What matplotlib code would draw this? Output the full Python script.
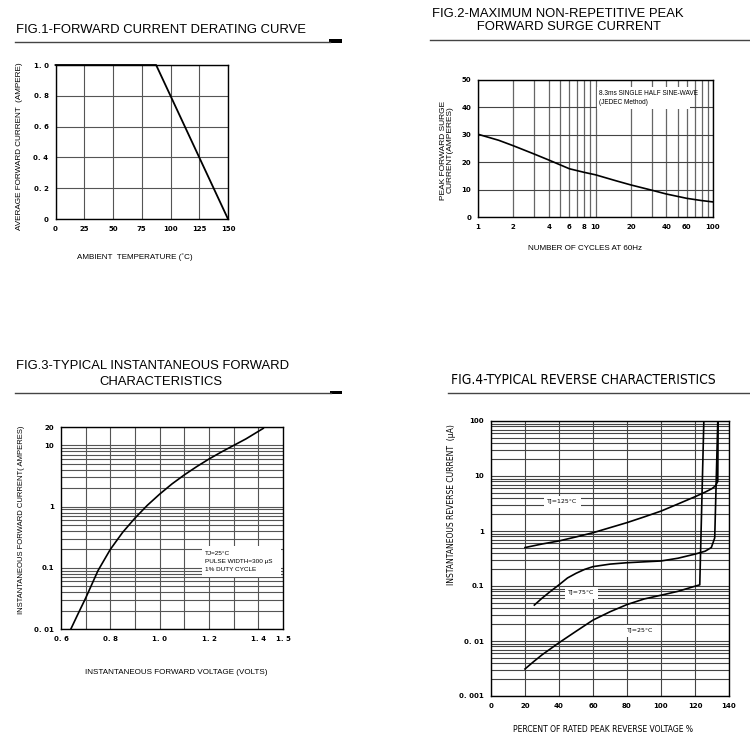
import matplotlib
matplotlib.use("Agg")
import matplotlib.pyplot as plt
from matplotlib.lines import Line2D
from matplotlib.patches import Rectangle
from matplotlib.ticker import FixedLocator, NullFormatter, LogLocator

# ---------------- data ----------------
# Fig.1 derating curve
f1_temp = [0, 87.5, 150]
f1_current = [1.0, 1.0, 0.0]
f1_xticks = [0, 25, 50, 75, 100, 125, 150]
f1_yticks = [0, 0.2, 0.4, 0.6, 0.8, 1.0]
f1_ylabels = ["0", "0. 2", "0. 4", "0. 6", "0. 8", "1. 0"]

# Fig.2 surge current
f2_cycles = [1, 1.5, 2, 3, 4, 6, 8, 10, 15, 20, 30, 40, 60, 80, 100]
f2_current = [30.2, 28.0, 26.0, 23.0, 20.8, 17.6, 16.3, 15.4, 13.2, 11.7, 9.8, 8.4, 6.8, 6.0, 5.5]
f2_xticks = [1, 2, 4, 6, 8, 10, 20, 40, 60, 100]
f2_xminor = [3, 5, 7, 9, 30, 50, 70, 80, 90]
f2_yticks = [0, 10, 20, 30, 40, 50]

# Fig.3 forward characteristics
f3_volt = [0.64, 0.67, 0.70, 0.75, 0.80, 0.85, 0.90, 0.95, 1.00, 1.05, 1.10, 1.15, 1.20, 1.25, 1.30, 1.35, 1.42]
f3_amp = [0.01, 0.018, 0.032, 0.09, 0.2, 0.38, 0.65, 1.05, 1.6, 2.35, 3.3, 4.5, 6.0, 7.8, 10, 12.8, 19]
f3_xticks = [0.6, 0.8, 1.0, 1.2, 1.4, 1.5]
f3_xlabels = ["0. 6", "0. 8", "1. 0", "1. 2", "1. 4", "1. 5"]
f3_xgrid = [0.7, 0.8, 0.9, 1.0, 1.1, 1.2, 1.3, 1.4]
f3_yticks = [0.01, 0.1, 1, 10, 20]
f3_ylabels = ["0. 01", "0.1", "1", "10", "20"]

# Fig.4 reverse characteristics
f4_x125 = [20, 30, 40, 50, 60, 70, 80, 90, 100, 110, 120, 126, 130, 132, 133.4, 133.6]
f4_i125 = [0.5, 0.58, 0.66, 0.78, 0.93, 1.15, 1.42, 1.8, 2.3, 3.1, 4.2, 5.1, 5.9, 6.6, 8.0, 100]
f4_x75 = [25.5, 30, 35, 40, 45, 50, 55, 60, 70, 80, 90, 100, 110, 120, 126, 129.6, 131.6, 133.4]
f4_i75 = [0.045, 0.06, 0.08, 0.105, 0.14, 0.17, 0.2, 0.225, 0.25, 0.265, 0.275, 0.285, 0.32, 0.38, 0.43, 0.5, 0.75, 100]
f4_x25 = [20, 25, 30, 40, 50, 60, 70, 80, 90, 100, 110, 118, 122.8, 125.2]
f4_i25 = [0.0031, 0.0042, 0.0056, 0.0093, 0.015, 0.024, 0.034, 0.046, 0.058, 0.068, 0.08, 0.095, 0.105, 100]
f4_xticks = [0, 20, 40, 60, 80, 100, 120, 140]
f4_yticks = [0.001, 0.01, 0.1, 1, 10, 100]
f4_ylabels = ["0. 001", "0. 01", "0.1", "1", "10", "100"]
f4_labels = ["TJ=125\u00b0C", "TJ=75\u00b0C", "TJ=25\u00b0C"]
f4_label_x = [33, 45.5, 80]
f4_label_y = [3.37, 0.0746, 0.0152]

# ---------------- layout helpers ----------------
W, H = 750, 745
fig = plt.figure(figsize=(W / 100, H / 100), dpi=100)
fig.patch.set_facecolor("white")

TITLE_FONT = ["Liberation Sans", "DejaVu Sans"]
TICK_FONT = ["DejaVu Sans"]


def fx(x):
    return x / W


def fy(y):
    return 1 - y / H


def add_ax(l, t, r, b):
    return fig.add_axes([fx(l), fy(b), (r - l) / W, (b - t) / H])


def hline(x0, x1, y, lw=1.0, color="#444444"):
    fig.add_artist(Line2D([fx(x0), fx(x1)], [fy(y), fy(y)], lw=lw, color=color,
                          transform=fig.transFigure))


def block(x0, x1, y0, y1):
    fig.add_artist(Rectangle((fx(x0), fy(y1)), (x1 - x0) / W, (y1 - y0) / H,
                             facecolor="black", edgecolor="none", transform=fig.transFigure))


def style(ax, tick_size=5):
    for s in ax.spines.values():
        s.set_linewidth(1.0)
        s.set_color("black")
    ax.tick_params(which="both", length=0, labelsize=tick_size, pad=5)
    for lab in ax.get_xticklabels() + ax.get_yticklabels():
        lab.set_fontweight("bold")
        lab.set_family(TICK_FONT)


GRID = dict(color="#555555", lw=0.8)
TS = 9.35

# ---------------- Fig.1 ----------------
fig.text(fx(16), fy(30), "FIG.1-FORWARD CURRENT DERATING CURVE", fontsize=TS,
         family=TITLE_FONT, va="center", ha="left")
hline(15, 330, 42)
block(329, 342, 39.5, 43)

ax1 = add_ax(55.5, 65, 228, 219)
ax1.set_xlim(0, 150)
ax1.set_ylim(0, 1.0)
ax1.set_xticks(f1_xticks)
ax1.set_yticks(f1_yticks)
ax1.set_yticklabels(f1_ylabels)
ax1.grid(True, **GRID)
ax1.set_axisbelow(True)
ax1.plot(f1_temp, f1_current, color="black", lw=1.3, clip_on=False, zorder=5)
style(ax1)
fig.text(fx(20), fy(146), "AVERAGE FORWARD CURRENT  (AMPERE)", rotation=90,
         fontsize=5.9, family=TITLE_FONT, ha="center", va="center")
fig.text(fx(135), fy(257), "AMBIENT  TEMPERATURE (\u02daC)", fontsize=5.8,
         family=TITLE_FONT, ha="center", va="center")

# ---------------- Fig.2 ----------------
fig.text(fx(558), fy(20.5), "FIG.2-MAXIMUM NON-REPETITIVE PEAK\n      FORWARD SURGE CURRENT",
         fontsize=TS, family=TITLE_FONT, va="center", ha="center", linespacing=1.1)
hline(430, 750, 40)

ax2 = add_ax(478, 80, 713, 217)
ax2.set_xscale("log")
ax2.set_xlim(1, 100)
ax2.set_ylim(0, 50)
ax2.set_xticks(f2_xticks)
ax2.set_xticklabels([str(v) for v in f2_xticks])
ax2.xaxis.set_minor_locator(FixedLocator(f2_xminor))
ax2.xaxis.set_minor_formatter(NullFormatter())
ax2.set_yticks(f2_yticks)
ax2.grid(True, which="both", axis="x", color="#666666", lw=0.9)
ax2.grid(True, which="major", axis="y", color="#444444", lw=0.8)
ax2.set_axisbelow(True)
ax2.plot(f2_cycles, f2_current, color="black", lw=1.2)
ax2.add_patch(Rectangle((0.505, 0.79), 0.395, 0.16, transform=ax2.transAxes,
                        facecolor="white", edgecolor="none", zorder=1.5))
ax2.text(0.515, 0.87, "8.3ms SINGLE HALF SINE-WAVE\n(JEDEC Method)", transform=ax2.transAxes,
         fontsize=4.7, family=TITLE_FONT, va="center", ha="left", linespacing=1.5, zorder=3)
style(ax2)
fig.text(fx(447), fy(150), "PEAK FORWARD SURGE\nCURRENT(AMPERES)", rotation=90,
         fontsize=6.0, family=TITLE_FONT, ha="center", va="center", linespacing=0.95)
fig.text(fx(585), fy(248), "NUMBER OF CYCLES AT 60Hz", fontsize=5.8,
         family=TITLE_FONT, ha="center", va="center")

# ---------------- Fig.3 ----------------
fig.text(fx(16), fy(366), "FIG.3-TYPICAL INSTANTANEOUS FORWARD", fontsize=TS,
         family=TITLE_FONT, va="center", ha="left")
fig.text(fx(161), fy(382), "CHARACTERISTICS", fontsize=TS,
         family=TITLE_FONT, va="center", ha="center")
hline(15, 331, 393)
block(330, 342, 390.5, 394)

ax3 = add_ax(61, 427, 283, 629)
ax3.set_yscale("log")
ax3.set_xlim(0.6, 1.5)
ax3.set_ylim(0.01, 20)
ax3.set_xticks(f3_xticks)
ax3.set_xticklabels(f3_xlabels)
ax3.set_yticks(f3_yticks)
ax3.set_yticklabels(f3_ylabels)
ax3.yaxis.set_minor_locator(LogLocator(base=10, subs=[2, 3, 4, 5, 6, 7, 8, 9]))
ax3.yaxis.set_minor_formatter(NullFormatter())
for v in f3_xgrid:
    ax3.axvline(v, **GRID, zorder=0.5)
ax3.grid(True, which="both", axis="y", **GRID)
ax3.set_axisbelow(True)
ax3.plot(f3_volt, f3_amp, color="black", lw=1.2)
ax3.add_patch(Rectangle((0.636, 0.255), 0.355, 0.155, transform=ax3.transAxes,
                        facecolor="white", edgecolor="none", zorder=1.5))
ax3.text(0.65, 0.335, "TJ=25\u00b0C\nPULSE WIDTH=300 \u03bcS\n1% DUTY CYCLE", transform=ax3.transAxes,
         fontsize=4.6, family=TITLE_FONT, va="center", ha="left", linespacing=1.75, zorder=3)
style(ax3)
fig.text(fx(22), fy(520), "INSTANTANEOUS FORWARD CURRENT( AMPERES)", rotation=90,
         fontsize=5.5, family=TITLE_FONT, ha="center", va="center")
fig.text(fx(176), fy(673), "INSTANTANEOUS FORWARD VOLTAGE (VOLTS)", fontsize=5.8,
         family=TITLE_FONT, ha="center", va="center")

# ---------------- Fig.4 ----------------
F4 = ["DejaVu Sans"]
fig.text(fx(451), fy(380), "FIG.4-TYPICAL REVERSE CHARACTERISTICS", fontsize=9.95,
         family=F4, va="center", ha="left", stretch="condensed")
hline(448, 750, 393)

ax4 = add_ax(491, 421, 729, 696)
ax4.set_yscale("log")
ax4.set_xlim(0, 140)
ax4.set_ylim(0.001, 100)
ax4.set_xticks(f4_xticks)
ax4.set_yticks(f4_yticks)
ax4.set_yticklabels(f4_ylabels)
ax4.yaxis.set_minor_locator(LogLocator(base=10, subs=[2, 3, 4, 5, 6, 7, 8, 9]))
ax4.yaxis.set_minor_formatter(NullFormatter())
ax4.grid(True, which="both", axis="y", color="#444444", lw=0.8)
ax4.grid(True, which="major", axis="x", color="#444444", lw=0.8)
ax4.set_axisbelow(True)
ax4.plot(f4_x125, f4_i125, color="black", lw=1.2)
ax4.plot(f4_x75, f4_i75, color="black", lw=1.2)
ax4.plot(f4_x25, f4_i25, color="black", lw=1.2)
for xt, yt, s in zip(f4_label_x, f4_label_y, f4_labels):
    ax4.text(xt, yt, s, fontsize=4.5, family=F4, ha="left", va="center", zorder=3,
             bbox=dict(facecolor="white", edgecolor="none", pad=2.5))
style(ax4)
fig.text(fx(452), fy(505), "INSTANTANEOUS REVERSE CURRENT  (\u03bcA)", rotation=90,
         fontsize=5.5, family=F4, ha="center", va="center")
fig.text(fx(603), fy(729), "PERCENT OF RATED PEAK REVERSE VOLTAGE %", fontsize=5.5,
         family=F4, ha="center", va="center")

fig.savefig("out.png", dpi=100, facecolor="white")
